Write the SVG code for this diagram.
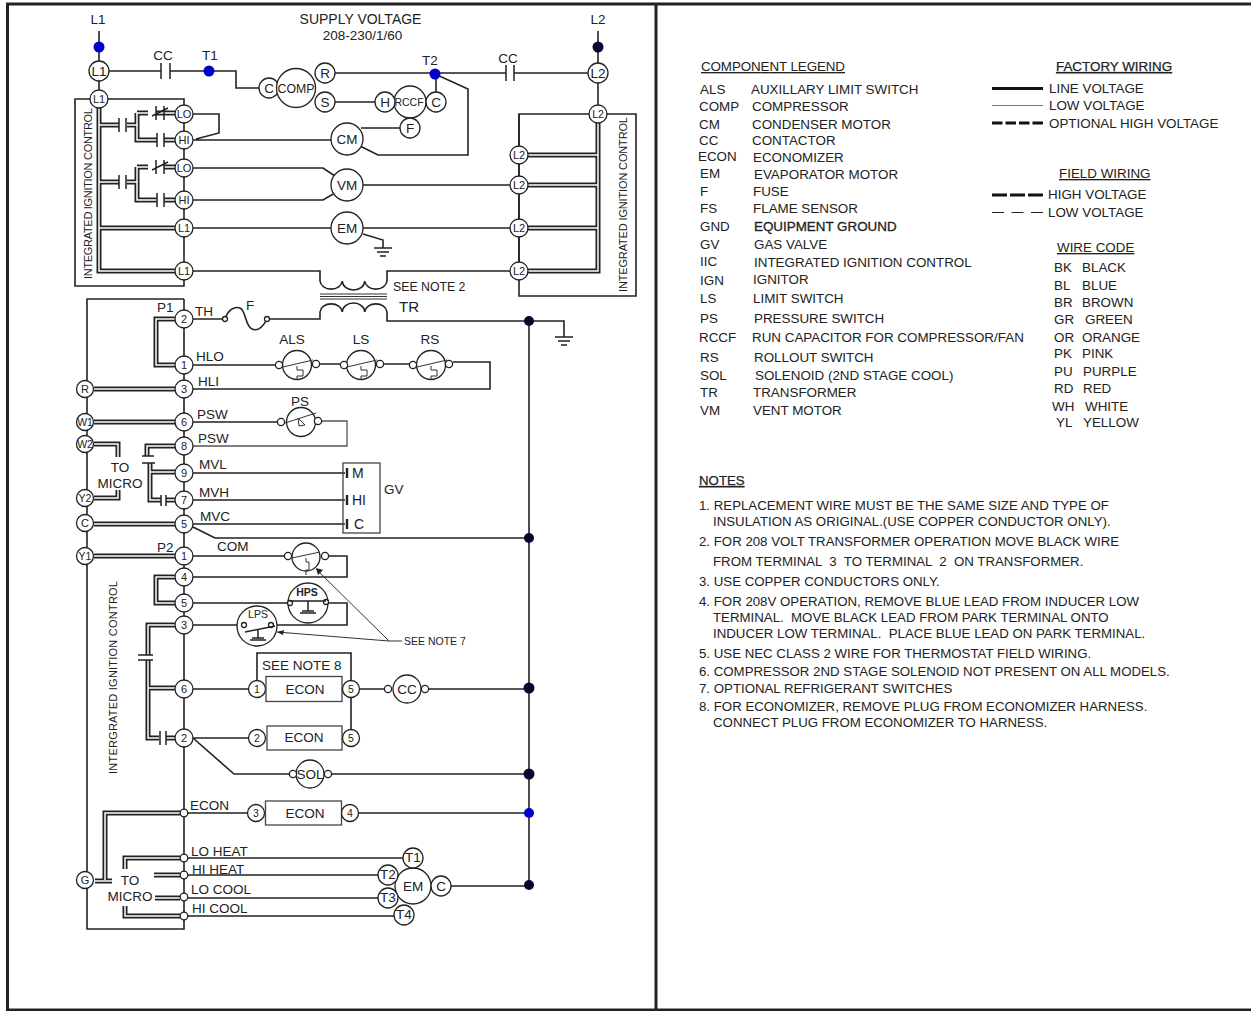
<svg xmlns="http://www.w3.org/2000/svg" width="1251" height="1011" viewBox="0 0 1251 1011">
<style>
text{font-family:"Liberation Sans",Arial,sans-serif;fill:#222;font-size:13.500px;white-space:pre}
.m{text-anchor:middle}
.s12{font-size:12.300px}.s10{font-size:10.500px}.s11{font-size:11px}.s14{font-size:14px}.s15{font-size:15px}
.lg text{font-size:13.400px}
.nt text{font-size:13.250px}
.u{text-decoration:underline}
.w{fill:none;stroke:#222;stroke-width:1.6;stroke-linejoin:miter}
.th{fill:none;stroke:#333;stroke-width:1}
.g{fill:none;stroke:#555;stroke-width:1.3}
.n{fill:#fff;stroke:#222;stroke-width:1.3}
.blk{fill:#fff;stroke:#444;stroke-width:1.3}
.bd{fill:#0000c8;stroke:none}
.kd{fill:#06062e;stroke:none}
.pl{fill:none;stroke:#222;stroke-width:1.5}
</style>
<defs>
<g id="dbl">
<path d="M99 108V271H175M99 125H119M99 182H119M99 228H175"/>
<path d="M175 113H156M127 125H137M137 113V140H157M137 113H148M175 140H164"/>
<path d="M127 182H137M137 167V200H157M137 167H148M175 167H164M175 200H164"/>
<path d="M598 123V271H528M598 155H528M598 185H528M598 228H528"/>
<path d="M175 319H156V365H175M94 389H175M94 422H175M94 524H175M94 556H175"/>
<path d="M94 444H118V457M94 498H118V490"/>
<path d="M175 446H147V456M150 463V472H175M150 472V500H161M175 500H166"/>
<path d="M175 577H156V603H175"/>
<path d="M175 625H148V655M148 660V738H159M148 688H175M175 738H166"/>
<path d="M180 813H105V880M95 881H112"/>
<path d="M180 858H125V869M180 916H125V906M154 875H180M155 898H180"/>
</g>
<g id="gnd"><path d="M-9 0H9M-6 4H6M-3 8H3"/></g>
</defs>
<g id="frame" fill="none" stroke="#222">
<path d="M1251 4H7.500V1010H1251" stroke-width="3"/>
<path d="M656 4V1010" stroke-width="3"/>
</g>
<g id="connectors">
<path class="w" d="M99 31V62M99 81V90M99 71H161M170 71H236V88H259M335 73H506M514 73H588M598 31V63M598 83V105M335 102H375M436 92V74M435 74L468 89V155H378L360 146M400 128H361M193 114H219V133L196 139M193 140H331M193 168H323L335 176M193 200H323L335 193M193 228H331M193 271H320V281M363 234L383 240V248M529 321V885M387 312V321H564V337"/>
<path class="w" d="M363 185H510M363 228H510M387 281V271H510"/>
<path class="w" d="M75 99H184V286H75ZM519 114H636V296H519Z" fill="none"/>
<path class="w" d="M519 114V271"/>
<path class="w" d="M184 299H87V929H184V299"/>
<path class="w" d="M193 319H223M267 319H320V312M193 365H276M320 364H340M384 364H410"/>
<path class="w" d="M453 362H490V389H193M193 422H277M193 473H345M193 500H345M193 524H345M193 527L215 538H529M193 556H284M329 556H347V577H193M193 603H288M328 603H347V625H193"/>
<path class="g" d="M322 421H347V446H193"/>
<path class="w" d="M193 689H249M351 681V653H257V681M351 697V730M359 689H384M429 689H529M193 738H249M193 738L234 774H289M332 774H529M188 813H248M358 813H529M188 858H403M188 875H378M188 898H378M188 916H394M451 886H529"/>
<path class="th" d="M402 641H389L316 569M389 641L277 632"/>
<path d="M316 568l7 2-5 5zM277 632l7-2-1 5z" fill="#222"/>
<use href="#dbl" fill="none" stroke="#222" stroke-width="5"/>
<use href="#dbl" fill="none" stroke="#fff" stroke-width="1.5"/>
<g class="pl">
<path d="M161 63V79M170 63V79M506 65V81M514 65V81"/>
<path d="M119 118V132M126 118V132M119 175V189M126 175V189M157 133V147M164 133V147M157 193V207M164 193V207"/>
<path d="M156 106V120M164 106V120M152 116L168 108M156 160V174M164 160V174M152 170L168 162"/>
<path d="M142 456H154M142 463H155M161 495V506M166 495V506M138 655H153M138 660H153M160 731V745M166 731V745"/>
</g>
<path d="M347 468V478M347 495V505M347 519V529" stroke="#222" stroke-width="2.400" fill="none"/>
<use href="#gnd" x="383" y="248" stroke="#222" stroke-width="1.400" fill="none"/>
<use href="#gnd" x="564" y="337" stroke="#222" stroke-width="1.400" fill="none"/>
<path class="w" d="M320 281A11.200 9 0 0 0 342.300 281A11.200 9 0 0 0 364.700 281A11.200 9 0 0 0 387 281"/>
<path class="th" d="M320 294H387M320 296.500H387M320 299H387"/>
<path class="w" d="M320 312A11.200 9 0 0 1 342.300 312A11.200 9 0 0 1 364.700 312A11.200 9 0 0 1 387 312"/>
<path class="w" d="M225 319C228 310 234 306 240 308C246 310 245 326 252 329C259 332 264 325 267 319"/>
<circle class="n" cx="225" cy="319" r="2.500"/><circle class="n" cx="267" cy="319" r="2.500"/>
</g>
<g id="supply">
<text class="m" x="98" y="24">L1</text><text class="m" x="598" y="24">L2</text>
<text class="m s14" x="360.500" y="24">SUPPLY VOLTAGE</text><text class="m" x="362.500" y="40">208-230/1/60</text>
<text class="m" x="163" y="60">CC</text><text class="m" x="210" y="60">T1</text><text class="m" x="430" y="65">T2</text><text class="m" x="508" y="63">CC</text>
<circle class="bd" cx="99" cy="47" r="5.500"/><circle class="bd" cx="209" cy="71" r="5.500"/><circle class="bd" cx="435" cy="74" r="5.500"/><circle class="kd" cx="598" cy="47" r="5.500"/>
</g>
<g id="node-l1"><circle class="n" cx="99" cy="71" r="10"/><text class="m" x="99" y="76">L1</text></g>
<g id="node-l1b"><circle class="n" cx="99" cy="99" r="9"/><text class="m s11" x="99" y="103">L1</text></g>
<g id="node-l2"><circle class="n" cx="598" cy="73" r="10"/><text class="m" x="598" y="78">L2</text></g>
<g id="node-l2b"><circle class="n" cx="598" cy="114" r="9"/><text class="m s10" x="598" y="118">L2</text></g>
<g id="comp"><circle class="n" cx="269" cy="88" r="10"/><circle class="n" cx="296" cy="88" r="19.500"/><circle class="n" cx="325" cy="73" r="10"/><circle class="n" cx="325" cy="102" r="10"/>
<text class="m" x="269" y="93">C</text><text class="m s12" x="296" y="93">COMP</text><text class="m" x="325" y="78">R</text><text class="m" x="325" y="107">S</text></g>
<g id="rccf"><circle class="n" cx="410" cy="102" r="16"/><circle class="n" cx="385" cy="102" r="10"/><circle class="n" cx="436" cy="102" r="10"/><circle class="n" cx="410" cy="128" r="10"/>
<text class="m" x="385" y="107">H</text><text class="m s10" x="409" y="106">RCCF</text><text class="m" x="436" y="107">C</text><text class="m" x="410" y="133">F</text></g>
<g id="cm"><circle class="n" cx="347" cy="139" r="16"/><text class="m" x="347" y="144">CM</text></g>
<g id="vm"><circle class="n" cx="347" cy="185" r="16"/><text class="m" x="347" y="190">VM</text></g>
<g id="em"><circle class="n" cx="347" cy="228" r="16"/><text class="m" x="347" y="233">EM</text></g>
<g id="iic-left-pins">
<circle class="n" cx="184" cy="114" r="9"/><text class="m s11" x="184" y="118">LO</text>
<circle class="n" cx="184" cy="140" r="9"/><text class="m s11" x="184" y="144">HI</text>
<circle class="n" cx="184" cy="168" r="9"/><text class="m s11" x="184" y="172">LO</text>
<circle class="n" cx="184" cy="200" r="9"/><text class="m s11" x="184" y="204">HI</text>
<circle class="n" cx="184" cy="228" r="9"/><text class="m s11" x="184" y="232">L1</text>
<circle class="n" cx="184" cy="271" r="9"/><text class="m s11" x="184" y="275">L1</text>
</g>
<g id="iic-right-pins">
<circle class="n" cx="519" cy="155" r="9"/><text class="m s11" x="519" y="159">L2</text>
<circle class="n" cx="519" cy="185" r="9"/><text class="m s11" x="519" y="189">L2</text>
<circle class="n" cx="519" cy="228" r="9"/><text class="m s11" x="519" y="232">L2</text>
<circle class="n" cx="519" cy="271" r="9"/><text class="m s11" x="519" y="275">L2</text>
</g>
<g id="labels-top">
<text class="s11" transform="translate(92 279) rotate(-90)" textLength="171">INTEGRATED IGNITION CONTROL</text>
<text class="s11" transform="translate(627 292) rotate(-90)" textLength="175">INTEGRATED IGNITION CONTROL</text>
<text class="s12" x="393" y="291">SEE NOTE 2</text><text class="s15" x="399" y="312">TR</text><text x="246" y="310">F</text>
<text x="157" y="312">P1</text><text x="195" y="316">TH</text><text x="196" y="361">HLO</text><text x="198" y="386">HLI</text><text x="197" y="419">PSW</text><text x="198" y="443">PSW</text><text x="199" y="469">MVL</text><text x="199" y="497">MVH</text><text x="200" y="521">MVC</text>
<text x="157" y="552">P2</text><text x="217" y="551">COM</text>
<text class="m" x="292" y="344">ALS</text><text class="m" x="361" y="344">LS</text><text class="m" x="430" y="344">RS</text><text class="m" x="300" y="406">PS</text>
<text class="m" x="120" y="472">TO</text><text class="m" x="120" y="488">MICRO</text>
<text class="s11" transform="translate(117 774) rotate(-90)" textLength="193">INTERGRATED IGNITION CONTROL</text>
<text x="190" y="810">ECON</text><text x="191" y="856">LO HEAT</text><text x="192" y="874">HI HEAT</text><text x="191" y="894">LO COOL</text><text x="192" y="913">HI COOL</text>
<text class="m" x="130" y="885">TO</text><text class="m" x="130" y="901">MICRO</text>
<text class="s10" x="404" y="645">SEE NOTE 7</text><text x="262" y="670">SEE NOTE 8</text>
</g>
<g id="p1-pins">
<circle class="n" cx="184" cy="319" r="9"/><text class="m s11" x="184" y="323">2</text>
<circle class="n" cx="184" cy="365" r="9"/><text class="m s11" x="184" y="369">1</text>
<circle class="n" cx="184" cy="389" r="9"/><text class="m s11" x="184" y="393">3</text>
<circle class="n" cx="184" cy="422" r="9"/><text class="m s11" x="184" y="426">6</text>
<circle class="n" cx="184" cy="446" r="9"/><text class="m s11" x="184" y="450">8</text>
<circle class="n" cx="184" cy="473" r="9"/><text class="m s11" x="184" y="477">9</text>
<circle class="n" cx="184" cy="500" r="9"/><text class="m s11" x="184" y="504">7</text>
<circle class="n" cx="184" cy="524" r="9"/><text class="m s11" x="184" y="528">5</text>
</g>
<g id="p2-pins">
<circle class="n" cx="184" cy="556" r="9"/><text class="m s11" x="184" y="560">1</text>
<circle class="n" cx="184" cy="577" r="9"/><text class="m s11" x="184" y="581">4</text>
<circle class="n" cx="184" cy="603" r="9"/><text class="m s11" x="184" y="607">5</text>
<circle class="n" cx="184" cy="625" r="9"/><text class="m s11" x="184" y="629">3</text>
<circle class="n" cx="184" cy="689" r="9"/><text class="m s11" x="184" y="693">6</text>
<circle class="n" cx="184" cy="738" r="9"/><text class="m s11" x="184" y="742">2</text>
<circle class="n" cx="184" cy="813" r="3.800"/><circle class="n" cx="184" cy="858" r="3.800"/><circle class="n" cx="184" cy="875" r="3.800"/><circle class="n" cx="184" cy="897" r="3.800"/><circle class="n" cx="184" cy="916" r="3.800"/>
</g>
<g id="terminals">
<circle class="n" cx="85" cy="389" r="8.500"/><text class="m s11" x="85" y="393">R</text>
<circle class="n" cx="85" cy="422" r="8.500"/><text class="m s10" x="85" y="426">W1</text>
<circle class="n" cx="85" cy="444" r="8.500"/><text class="m s10" x="85" y="448">W2</text>
<circle class="n" cx="85" cy="498" r="8.500"/><text class="m s10" x="85" y="502">Y2</text>
<circle class="n" cx="85" cy="523" r="8.500"/><text class="m s11" x="85" y="527">C</text>
<circle class="n" cx="85" cy="556" r="8.500"/><text class="m s10" x="85" y="560">Y1</text>
<circle class="n" cx="85" cy="880" r="8.500"/><text class="m s11" x="85" y="884">G</text>
</g>
<g id="als"><circle class="n" cx="297" cy="365" r="14.500"/><circle class="n" cx="279" cy="365" r="3.600"/><circle class="n" cx="316" cy="364" r="3.600"/><path class="th" d="M283 367L313 360M297 366V370H303V376H297V380"/></g>
<g id="ls"><circle class="n" cx="361" cy="365" r="14.500"/><circle class="n" cx="344" cy="365" r="3.600"/><circle class="n" cx="380" cy="364" r="3.600"/><path class="th" d="M347 367L377 360M361 366V370H367V376H361V380"/></g>
<g id="rs"><circle class="n" cx="431" cy="365" r="14.500"/><circle class="n" cx="413" cy="365" r="3.600"/><circle class="n" cx="449" cy="364" r="3.600"/><path class="th" d="M417 367L447 360M431 366V370H437V376H431V380"/></g>
<g id="ps"><circle class="n" cx="301" cy="422" r="14.500"/><circle class="n" cx="281" cy="422" r="3.600"/><circle class="n" cx="318" cy="421" r="3.600"/><path class="th" d="M285 423L316 413M298 418L299 426L305 425Z"/></g>
<g id="gv"><rect class="blk" x="343" y="463" width="37" height="70" style="fill:none"/><text class="s14" x="352" y="478">M</text><text class="s14" x="352" y="505">HI</text><text class="s14" x="354" y="529">C</text><text x="384" y="494">GV</text></g>
<g id="com-switch"><circle class="n" cx="306" cy="557" r="14"/><circle class="n" cx="288" cy="556" r="3.600"/><circle class="n" cx="325" cy="556" r="3.600"/><path class="th" d="M292 558L320 552M306 558V562H309V570H306V575"/></g>
<g id="hps"><circle class="n" cx="308" cy="603" r="20"/><circle class="n" cx="290" cy="603" r="2.500"/><circle class="n" cx="326" cy="602" r="2.500"/><path class="pl" d="M290 601H326M308 601V611M302 611H314M300 613H316"/><text class="m s10" x="307" y="596" style="font-weight:bold">HPS</text></g>
<g id="lps"><circle class="n" cx="257" cy="626" r="20"/><circle class="n" cx="244" cy="625" r="2.500"/><circle class="n" cx="271" cy="625" r="2.500"/><path class="pl" d="M245 632L275 626M258 630V638M252 638H264M250 640H266"/><text class="m s10" x="258" y="618">LPS</text></g>
<g id="econ1"><circle class="n" cx="257" cy="689" r="8.500"/><rect class="blk" x="266" y="676.500" width="76" height="25"/><circle class="n" cx="351" cy="689" r="8.500"/><text class="m s10" x="257" y="693">1</text><text class="m" x="305" y="694">ECON</text><text class="m s10" x="351" y="693">5</text></g>
<g id="econ2"><circle class="n" cx="257" cy="738" r="8.500"/><rect class="blk" x="267" y="726" width="75" height="24"/><circle class="n" cx="351" cy="738" r="8.500"/><text class="m s10" x="257" y="742">2</text><text class="m" x="304" y="742">ECON</text><text class="m s10" x="351" y="742">5</text></g>
<g id="econ3"><circle class="n" cx="256" cy="813" r="8.500"/><rect class="blk" x="265.500" y="801" width="76" height="24"/><circle class="n" cx="350" cy="813" r="8.500"/><text class="m s10" x="256" y="817">3</text><text class="m" x="305" y="818">ECON</text><text class="m s10" x="350" y="817">4</text></g>
<g id="cc"><circle class="n" cx="407" cy="689" r="14"/><circle class="n" cx="388" cy="689" r="3.600"/><circle class="n" cx="425" cy="689" r="3.600"/><text class="m" x="407" y="694">CC</text></g>
<g id="sol"><circle class="n" cx="310" cy="774" r="14"/><circle class="n" cx="293" cy="774" r="3.600"/><circle class="n" cx="328" cy="774" r="3.600"/><text class="m" x="310" y="779">SOL</text></g>
<g id="em2"><circle class="n" cx="413" cy="886" r="18"/><circle class="n" cx="413" cy="858" r="10"/><circle class="n" cx="388" cy="875" r="10"/><circle class="n" cx="388" cy="898" r="10"/><circle class="n" cx="404" cy="915" r="10"/><circle class="n" cx="441" cy="886" r="10"/>
<text class="m" x="413" y="862">T1</text><text class="m" x="388" y="879">T2</text><text class="m" x="388" y="902">T3</text><text class="m" x="404" y="919">T4</text><text class="m" x="413" y="891">EM</text><text class="m" x="441" y="891">C</text></g>
<g id="junctions">
<circle class="kd" cx="529" cy="321" r="5"/><circle class="kd" cx="529" cy="538" r="5"/><circle class="kd" cx="529" cy="688" r="5.500"/><circle class="kd" cx="529" cy="774" r="5.500"/><circle class="bd" cx="529" cy="813" r="5"/><circle class="kd" cx="529" cy="885" r="5"/>
</g>
<g id="component-legend" class="lg">
<text class="u" x="701" y="71" textLength="144">COMPONENT LEGEND</text>
<text x="700" y="94">ALS</text><text x="751" y="94">AUXILLARY LIMIT SWITCH</text>
<text x="699" y="111">COMP</text><text x="752" y="111">COMPRESSOR</text>
<text x="699" y="129">CM</text><text x="752" y="129">CONDENSER MOTOR</text>
<text x="699" y="145">CC</text><text x="752" y="145">CONTACTOR</text>
<text x="698" y="161">ECON</text><text x="753" y="162">ECONOMIZER</text>
<text x="700" y="178">EM</text><text x="754" y="179">EVAPORATOR MOTOR</text>
<text x="700" y="196">F</text><text x="753" y="196">FUSE</text>
<text x="700" y="213">FS</text><text x="753" y="213">FLAME SENSOR</text>
<text x="700" y="231">GND</text><text x="754" y="231" style="stroke:#222;stroke-width:.3">EQUIPMENT GROUND</text>
<text x="700" y="249">GV</text><text x="754" y="249">GAS VALVE</text>
<text x="700" y="266">IIC</text><text x="754" y="267">INTEGRATED IGNITION CONTROL</text>
<text x="700" y="285">IGN</text><text x="753" y="284">IGNITOR</text>
<text x="700" y="303">LS</text><text x="753" y="303">LIMIT SWITCH</text>
<text x="700" y="323">PS</text><text x="754" y="323">PRESSURE SWITCH</text>
<text x="699" y="342">RCCF</text><text x="752" y="342">RUN CAPACITOR FOR COMPRESSOR/FAN</text>
<text x="700" y="362">RS</text><text x="754" y="362">ROLLOUT SWITCH</text>
<text x="700" y="380">SOL</text><text x="755" y="380">SOLENOID (2ND STAGE COOL)</text>
<text x="700" y="397">TR</text><text x="753" y="397">TRANSFORMER</text>
<text x="700" y="415">VM</text><text x="753" y="415">VENT MOTOR</text>
</g>
<g id="wiring-legend" class="lg">
<text class="u" x="1056" y="71" style="stroke:#222;stroke-width:.25">FACTORY WIRING</text>
<path d="M992 88.500H1043" stroke="#111" stroke-width="3"/><text x="1049" y="93">LINE VOLTAGE</text>
<path d="M992 105.500H1043" stroke="#777" stroke-width="1"/><text x="1049" y="110">LOW VOLTAGE</text>
<path d="M992 123H1043" stroke="#111" stroke-width="3" stroke-dasharray="10.500 3"/><text x="1049" y="128">OPTIONAL HIGH VOLTAGE</text>
<text class="u" x="1059" y="178">FIELD WIRING</text>
<path d="M992 195H1043" stroke="#111" stroke-width="3" stroke-dasharray="15 3"/><text x="1048" y="199">HIGH VOLTAGE</text>
<path d="M992 212.500H1043" stroke="#222" stroke-width="1" stroke-dasharray="12 7.500"/><text x="1048" y="217">LOW VOLTAGE</text>
</g>
<g id="wire-code" class="lg">
<text class="u" x="1057" y="252">WIRE CODE</text>
<text x="1054" y="272">BK</text><text x="1082" y="272">BLACK</text>
<text x="1054" y="290">BL</text><text x="1082" y="290">BLUE</text>
<text x="1054" y="307">BR</text><text x="1082" y="307">BROWN</text>
<text x="1054" y="324">GR</text><text x="1085" y="324">GREEN</text>
<text x="1054" y="342">OR</text><text x="1082" y="342">ORANGE</text>
<text x="1054" y="358">PK</text><text x="1082" y="358">PINK</text>
<text x="1054" y="376">PU</text><text x="1083" y="376">PURPLE</text>
<text x="1054" y="393">RD</text><text x="1083" y="393">RED</text>
<text x="1052" y="411">WH</text><text x="1085" y="411">WHITE</text>
<text x="1056" y="427">YL</text><text x="1083" y="427">YELLOW</text>
</g>
<g id="notes" class="nt">
<text class="u" x="699" y="485" style="stroke:#222;stroke-width:.25">NOTES</text>
<text x="699" y="510">1. REPLACEMENT WIRE MUST BE THE SAME SIZE AND TYPE OF</text>
<text x="713" y="526">INSULATION AS ORIGINAL.(USE COPPER CONDUCTOR ONLY).</text>
<text x="699" y="546">2. FOR 208 VOLT TRANSFORMER OPERATION MOVE BLACK WIRE</text>
<text x="713" y="566">FROM TERMINAL  3  TO TERMINAL  2  ON TRANSFORMER.</text>
<text x="699" y="586">3. USE COPPER CONDUCTORS ONLY.</text>
<text x="699" y="606">4. FOR 208V OPERATION, REMOVE BLUE LEAD FROM INDUCER LOW</text>
<text x="713" y="622">TERMINAL.  MOVE BLACK LEAD FROM PARK TERMINAL ONTO</text>
<text x="713" y="638">INDUCER LOW TERMINAL.  PLACE BLUE LEAD ON PARK TERMINAL.</text>
<text x="699" y="658">5. USE NEC CLASS 2 WIRE FOR THERMOSTAT FIELD WIRING.</text>
<text x="699" y="676">6. COMPRESSOR 2ND STAGE SOLENOID NOT PRESENT ON ALL MODELS.</text>
<text x="699" y="693">7. OPTIONAL REFRIGERANT SWITCHES</text>
<text x="699" y="711">8. FOR ECONOMIZER, REMOVE PLUG FROM ECONOMIZER HARNESS.</text>
<text x="713" y="727">CONNECT PLUG FROM ECONOMIZER TO HARNESS.</text>
</g>
</svg>
